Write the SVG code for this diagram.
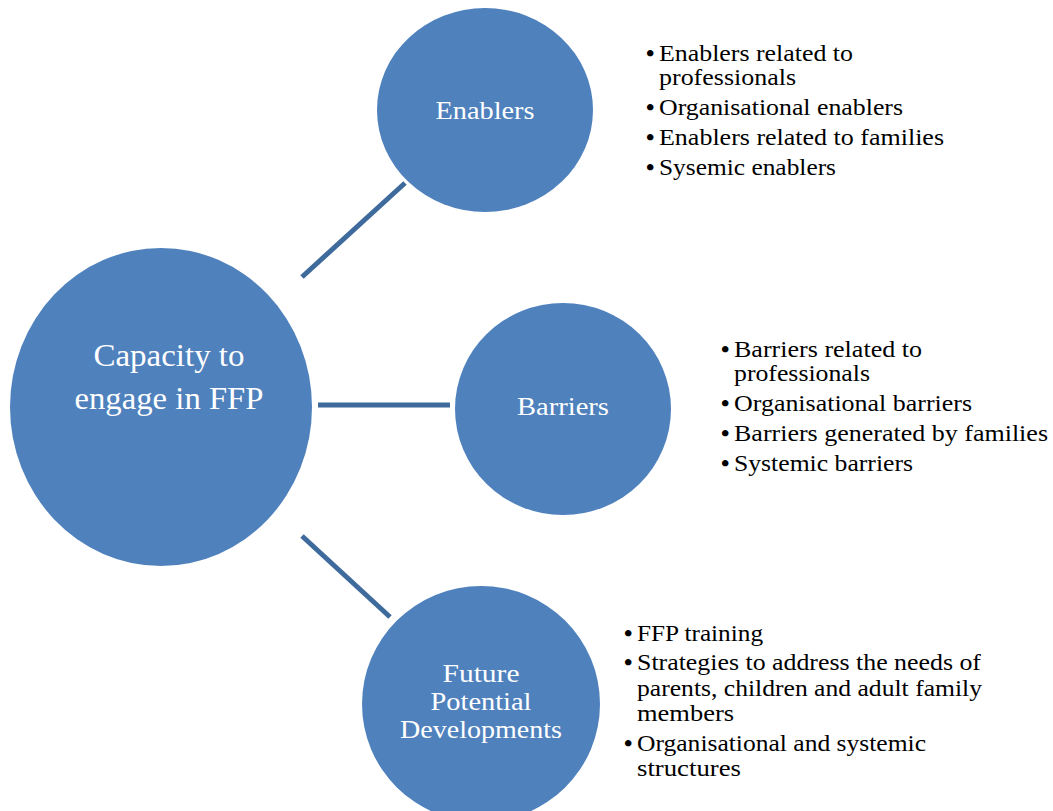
<svg xmlns="http://www.w3.org/2000/svg" width="1053" height="811" viewBox="0 0 1053 811">
<style>
.node{fill:#4f81bd;}
.lbl{font-family:"Liberation Serif",serif;fill:#ffffff;text-anchor:middle;}
.lst{font-family:"Liberation Serif",serif;fill:#000000;font-size:23px;white-space:pre;}
.bul{font-size:24px;font-weight:bold;}
.conn{stroke:#3e6a9c;stroke-width:5;fill:none;}
</style>
<rect width="1053" height="811" fill="#ffffff"/>
<g id="connectors">
<line class="conn" x1="302" y1="277" x2="405" y2="183"/>
<line class="conn" x1="318" y1="405" x2="450" y2="405"/>
<line class="conn" x1="302" y1="536" x2="390" y2="617"/>
</g>
<g id="capacity">
<ellipse class="node" cx="161" cy="407" rx="151" ry="159"/>
<text class="lbl" font-size="31" x="169" y="366" textLength="151" lengthAdjust="spacingAndGlyphs">Capacity to</text>
<text class="lbl" font-size="31" x="169" y="409" textLength="189" lengthAdjust="spacingAndGlyphs">engage in FFP</text>
</g>
<g id="enablers">
<ellipse class="node" cx="485" cy="110" rx="108" ry="102"/>
<text class="lbl" font-size="25" x="485" y="119" textLength="99" lengthAdjust="spacingAndGlyphs">Enablers</text>
</g>
<g id="barriers">
<ellipse class="node" cx="563" cy="409" rx="108" ry="106"/>
<text class="lbl" font-size="25" x="563" y="415" textLength="92" lengthAdjust="spacingAndGlyphs">Barriers</text>
</g>
<g id="future">
<ellipse class="node" cx="481" cy="704" rx="119" ry="118"/>
<text class="lbl" font-size="25" x="481" y="682" textLength="77" lengthAdjust="spacingAndGlyphs">Future</text>
<text class="lbl" font-size="25" x="481" y="710" textLength="101" lengthAdjust="spacingAndGlyphs">Potential</text>
<text class="lbl" font-size="25" x="481" y="738" textLength="162" lengthAdjust="spacingAndGlyphs">Developments</text>
</g>
<g id="enablers-list" class="lst">
<text x="646" y="61"><tspan class="bul">•</tspan><tspan x="659" textLength="194" lengthAdjust="spacingAndGlyphs">Enablers related to</tspan></text>
<text x="659" y="85" textLength="137" lengthAdjust="spacingAndGlyphs">professionals</text>
<text x="646" y="115"><tspan class="bul">•</tspan><tspan x="659" textLength="244" lengthAdjust="spacingAndGlyphs">Organisational enablers</tspan></text>
<text x="646" y="145"><tspan class="bul">•</tspan><tspan x="659" textLength="285" lengthAdjust="spacingAndGlyphs">Enablers related  to families</tspan></text>
<text x="646" y="175"><tspan class="bul">•</tspan><tspan x="659" textLength="177" lengthAdjust="spacingAndGlyphs">Sysemic enablers</tspan></text>
</g>
<g id="barriers-list" class="lst">
<text x="721" y="357"><tspan class="bul">•</tspan><tspan x="734" textLength="188" lengthAdjust="spacingAndGlyphs">Barriers related to</tspan></text>
<text x="734" y="381" textLength="136" lengthAdjust="spacingAndGlyphs">professionals</text>
<text x="721" y="411"><tspan class="bul">•</tspan><tspan x="734" textLength="238" lengthAdjust="spacingAndGlyphs">Organisational barriers</tspan></text>
<text x="721" y="441"><tspan class="bul">•</tspan><tspan x="734" textLength="314" lengthAdjust="spacingAndGlyphs">Barriers generated  by families</tspan></text>
<text x="721" y="471"><tspan class="bul">•</tspan><tspan x="734" textLength="179" lengthAdjust="spacingAndGlyphs">Systemic barriers</tspan></text>
</g>
<g id="future-list" class="lst">
<text x="624" y="641"><tspan class="bul">•</tspan><tspan x="637" textLength="126" lengthAdjust="spacingAndGlyphs">FFP training</tspan></text>
<text x="624" y="670"><tspan class="bul">•</tspan><tspan x="637" textLength="344" lengthAdjust="spacingAndGlyphs">Strategies to address the needs of</tspan></text>
<text x="637" y="696" textLength="345" lengthAdjust="spacingAndGlyphs">parents, children and adult family</text>
<text x="637" y="721" textLength="97" lengthAdjust="spacingAndGlyphs">members</text>
<text x="624" y="751"><tspan class="bul">•</tspan><tspan x="637" textLength="289" lengthAdjust="spacingAndGlyphs">Organisational and systemic</tspan></text>
<text x="637" y="776" textLength="104" lengthAdjust="spacingAndGlyphs">structures</text>
</g>
</svg>
